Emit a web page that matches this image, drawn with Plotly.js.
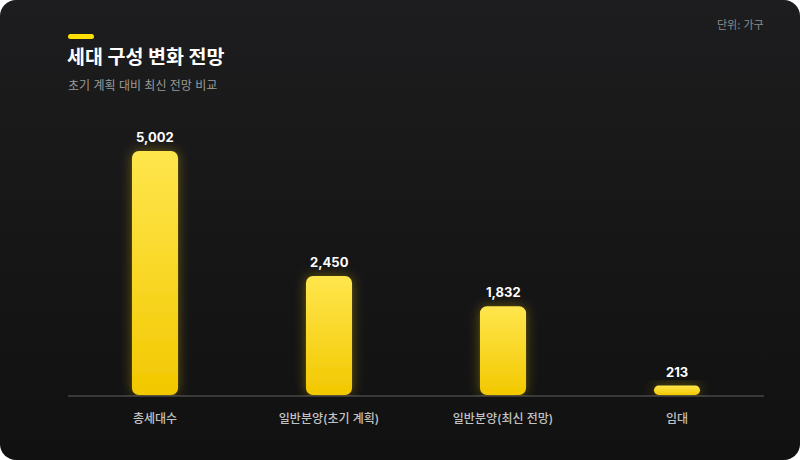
<!DOCTYPE html>
<html>
<head>
<meta charset="utf-8">
<script src="https://cdn.plot.ly/plotly-3.0.1.min.js"></script>
<style>
  html, body { margin:0; padding:0; background:#ffffff; }
  #card { position:absolute; left:0; top:0; width:800px; height:460px; border-radius:16px;
          background:linear-gradient(180deg,#1d1d1f 0%,#161616 55%,#111111 100%); overflow:hidden; }
  #chart { position:absolute; left:0; top:0; width:800px; height:460px; }
</style>
</head>
<body>
<div id="card"><div id="chart"></div></div>
<script>
const categories = ["총세대수", "일반분양(초기 계획)", "일반분양(최신 전망)", "임대"];
const values = [5002, 2450, 1832, 213];
const valueLabels = ["5,002", "2,450", "1,832", "213"];

const FONT = "Inter, 'Noto Sans CJK KR', 'Noto Sans', sans-serif";

const trace = {
  type: "bar",
  x: categories,
  y: values,
  width: 0.265,
  marker: { color: "#F9D423", line: { width: 0 } },
  hoverinfo: "none"
};

const annotations = categories.map((c, i) => ({
  x: c, y: values[i], xref: "x", yref: "y",
  text: valueLabels[i], showarrow: false,
  yanchor: "bottom", yshift: 4,
  font: { family: FONT, size: 13, color: "#ffffff", weight: 700 }
}));

annotations.push({
  xref: "paper", yref: "paper", x: 0, y: 1 + (120 - 85) / 276, xanchor: "left", yanchor: "middle",
  xshift: -2,
  text: "초기 계획 대비 최신 전망 비교", showarrow: false,
  font: { family: FONT, size: 12, color: "#9a9a9a" }
});
annotations.push({
  xref: "paper", yref: "paper", x: 1, y: 1 + (120 - 25) / 276, xanchor: "right", yanchor: "middle",
  xshift: 2,
  text: "단위: 가구", showarrow: false,
  font: { family: FONT, size: 11, color: "#8c8c8c" }
});

const layout = {
  width: 800, height: 460,
  paper_bgcolor: "rgba(0,0,0,0)",
  plot_bgcolor: "rgba(0,0,0,0)",
  margin: { l: 68, r: 36, t: 120, b: 64 },
  title: {
    text: "<b>세대 구성 변화 전망</b>",
    x: 67 / 800, xanchor: "left", y: 1 - 57 / 460, yanchor: "middle",
    font: { family: FONT, size: 19.5, color: "#ffffff" }
  },
  xaxis: {
    showgrid: false, zeroline: false, showline: false,
    ticks: "outside", ticklen: 12, tickcolor: "rgba(0,0,0,0)",
    tickfont: { family: FONT, size: 12, color: "#c2c2c2", weight: 500 },
    fixedrange: true
  },
  yaxis: {
    range: [0, 5635], showgrid: false, zeroline: false, showline: false,
    showticklabels: false, fixedrange: true
  },
  shapes: [
    { type: "line", xref: "paper", yref: "paper", x0: 0, x1: 1, y0: 0, y1: 0,
      line: { color: "#474747", width: 1.6 }, layer: "below" },
    { type: "rect", xref: "paper", yref: "paper",
      x0: 0, x1: 26 / 696, y0: 1 + (120 - 39) / 276, y1: 1 + (120 - 34) / 276,
      fillcolor: "#FFE000", line: { width: 0 } }
  ],
  annotations: annotations,
  showlegend: false
};

Plotly.newPlot("chart", [trace], layout, { displayModeBar: false, staticPlot: true }).then(gd => {
  const svg = gd.querySelector("svg.main-svg");
  const ns = "http://www.w3.org/2000/svg";
  let defs = svg.querySelector("defs");
  if (!defs) { defs = document.createElementNS(ns, "defs"); svg.insertBefore(defs, svg.firstChild); }
  const grad = document.createElementNS(ns, "linearGradient");
  grad.setAttribute("id", "barGrad");
  grad.setAttribute("x1", "0"); grad.setAttribute("y1", "0");
  grad.setAttribute("x2", "0"); grad.setAttribute("y2", "1");
  [["0%", "#FFE64D"], ["100%", "#F2C800"]].forEach(([o, c]) => {
    const s = document.createElementNS(ns, "stop");
    s.setAttribute("offset", o); s.setAttribute("stop-color", c);
    grad.appendChild(s);
  });
  defs.appendChild(grad);
  const filt = document.createElementNS(ns, "filter");
  filt.setAttribute("id", "glow");
  filt.setAttribute("x", "-50%"); filt.setAttribute("y", "-50%");
  filt.setAttribute("width", "200%"); filt.setAttribute("height", "200%");
  filt.innerHTML = '<feDropShadow dx="0" dy="0" stdDeviation="6" flood-color="#FFD400" flood-opacity="0.35"/>';
  defs.appendChild(filt);
  const rr = (x0, y0, x1, y1, r) =>
    `M${x0 + r},${y0}H${x1 - r}A${r},${r} 0 0 1 ${x1},${y0 + r}V${y1 - r}A${r},${r} 0 0 1 ${x1 - r},${y1}` +
    `H${x0 + r}A${r},${r} 0 0 1 ${x0},${y1 - r}V${y0 + r}A${r},${r} 0 0 1 ${x0 + r},${y0}Z`;
  gd.querySelectorAll(".bars .point path").forEach(p => {
    const bb = p.getBBox();
    const x0 = bb.x, x1 = bb.x + bb.width, y0 = bb.y, y1 = bb.y + bb.height - 1;
    const r = Math.min(7, (y1 - y0) / 2, bb.width / 2);
    p.setAttribute("d", rr(x0, y0, x1, y1, r));
    p.style.fill = "url(#barGrad)";
    p.setAttribute("filter", "url(#glow)");
  });
  gd.querySelectorAll(".shapelayer path").forEach(p => {
    if (p.style.fill && p.style.fill.indexOf("255, 224, 0") >= 0) {
      const bb = p.getBBox();
      const r = bb.height / 2;
      const x0 = bb.x, x1 = bb.x + bb.width, y0 = bb.y, y1 = bb.y + bb.height;
      p.setAttribute("d", `M${x0 + r},${y0}H${x1 - r}A${r},${r} 0 0 1 ${x1 - r},${y1}H${x0 + r}A${r},${r} 0 0 1 ${x0 + r},${y0}Z`);
    }
  });
});
</script>
</body>
</html>
